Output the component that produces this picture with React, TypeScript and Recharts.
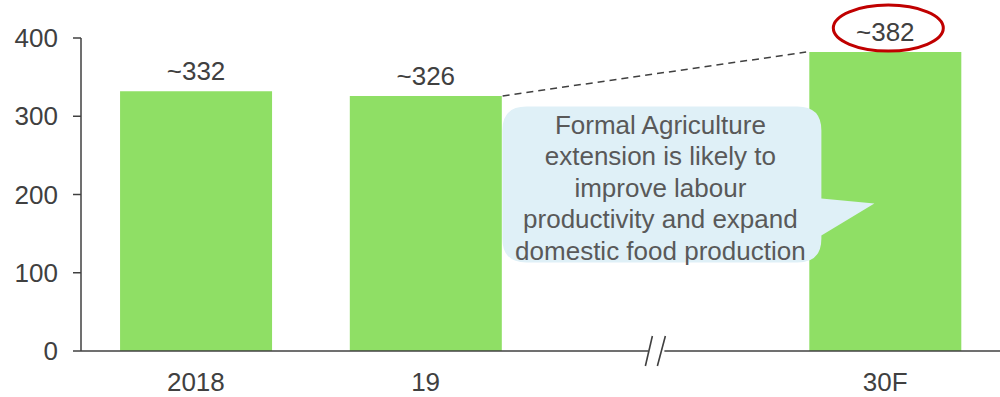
import React from 'react';
import { BarChart, Bar, XAxis, YAxis, LabelList, ReferenceLine, ReferenceDot } from 'recharts';

const categories = ['2018', '19', 'brk', '30F'];
const values = [332, 326, null, 382];
const valueLabels = ['~332', '~326', '', '~382'];
const yTicks = [0, 100, 200, 300, 400];
const calloutLines = [
  'Formal Agriculture',
  'extension is likely to',
  'improve labour',
  'productivity and expand',
  'domestic food production',
];

const data = categories.map((c, i) => ({ cat: c, value: values[i], label: valueLabels[i] }));

const FONT = '"Liberation Sans", Arial, sans-serif';
const TEXT = '#404040';
const GREEN = '#8FDF65';
const FS = 26;

const Txt = ({ x, y, anchor = 'middle', fill = TEXT, children }: any) => (
  <text x={x} y={y} textAnchor={anchor} dominantBaseline="central" fill={fill} fontSize={FS} fontFamily={FONT}>
    {children}
  </text>
);

const YTick = (props: any) => {
  const { x, y, payload } = props;
  return <Txt x={x} y={y} anchor="end">{payload.value}</Txt>;
};

const XTick = (props: any) => {
  const { x, y, payload } = props;
  if (payload.value === 'brk') return null;
  return <Txt x={x} y={y + 8}>{payload.value}</Txt>;
};

// label above each bar, the forecast one circled in red
const renderValueLabel = (props: any) => {
  const { x, y, width, value } = props;
  if (!value) return null;
  const cx = x + width / 2;
  return (
    <g>
      <Txt x={cx} y={y - 20}>{value}</Txt>
      {value === valueLabels[3] && (
        <ellipse cx={cx + 3} cy={y - 24} rx={55} ry={23} fill="none" stroke="#C00000" strokeWidth={3} />
      )}
    </g>
  );
};

// axis break mark
const BreakMark = (props: any) => {
  const { cx, cy } = props;
  return (
    <g>
      <rect x={cx - 7} y={cy - 3} width={16} height={6} fill="#fff" />
      <line x1={cx - 3} y1={cy - 15} x2={cx - 10} y2={cy + 15} stroke={TEXT} strokeWidth={1.6} />
      <line x1={cx + 10} y1={cy - 15} x2={cx + 2} y2={cy + 15} stroke={TEXT} strokeWidth={1.6} />
    </g>
  );
};

// dashed connector between the top corners of "19" and "30F"
const DashedConnector = (props: any) => {
  const { x1, y1, x2, y2 } = props;
  return (
    <line x1={x1 + 77} y1={y1} x2={x2 - 79} y2={y2} stroke={TEXT} strokeWidth={1.5} strokeDasharray="7 5" />
  );
};

// speech bubble
const Callout = (props: any) => {
  const { cx, cy } = props;
  const L = cx - 153, R = cx + 166, T = cy - 88, B = cy + 68, r = 24;
  const d = [
    `M ${L + r} ${T}`,
    `L ${R - r} ${T}`,
    `Q ${R} ${T} ${R} ${T + r}`,
    `L ${R} ${cy + 4}`,
    `L ${cx + 219} ${cy + 9}`,
    `L ${R} ${cy + 41}`,
    `L ${R} ${B - r}`,
    `Q ${R} ${B} ${R - r} ${B}`,
    `L ${L + r} ${B}`,
    `Q ${L} ${B} ${L} ${B - r}`,
    `L ${L} ${T + r}`,
    `Q ${L} ${T} ${L + r} ${T}`,
    'Z',
  ].join(' ');
  return (
    <g>
      <path d={d} fill="#DFF0F7" />
      {calloutLines.map((t, i) => (
        <Txt key={i} x={cx + 5} y={cy - 70 + i * 31.5} fill="#595959">{t}</Txt>
      ))}
    </g>
  );
};

export default function App() {
  return (
    <div style={{ position: 'absolute', left: 0, top: 0, width: 1000, height: 397, background: '#fff' }}>
      <BarChart width={1000} height={397} data={data} margin={{ top: 38, right: 0, left: 0, bottom: 0 }} barCategoryGap="17%">
        <XAxis
          dataKey="cat"
          height={46}
          tickLine={false}
          tickSize={0}
          tickMargin={23}
          axisLine={{ stroke: TEXT, strokeWidth: 1.5 }}
          tick={<XTick />}
        />
        <YAxis
          width={81}
          domain={[0, 400]}
          ticks={yTicks}
          tickSize={8}
          tickMargin={15}
          axisLine={{ stroke: TEXT, strokeWidth: 1.5 }}
          tickLine={{ stroke: TEXT, strokeWidth: 1.5 }}
          tick={<YTick />}
        />
        <Bar dataKey="value" fill={GREEN} isAnimationActive={false}>
          <LabelList dataKey="label" content={renderValueLabel} />
        </Bar>
        <ReferenceLine
          segment={[{ x: '19', y: values[1] as number }, { x: '30F', y: values[3] as number }]}
          shape={DashedConnector}
          ifOverflow="visible"
        />
        <ReferenceDot x="brk" y={200} shape={Callout} ifOverflow="visible" />
        <ReferenceDot x="brk" y={0} shape={BreakMark} ifOverflow="visible" />
      </BarChart>
    </div>
  );
}
